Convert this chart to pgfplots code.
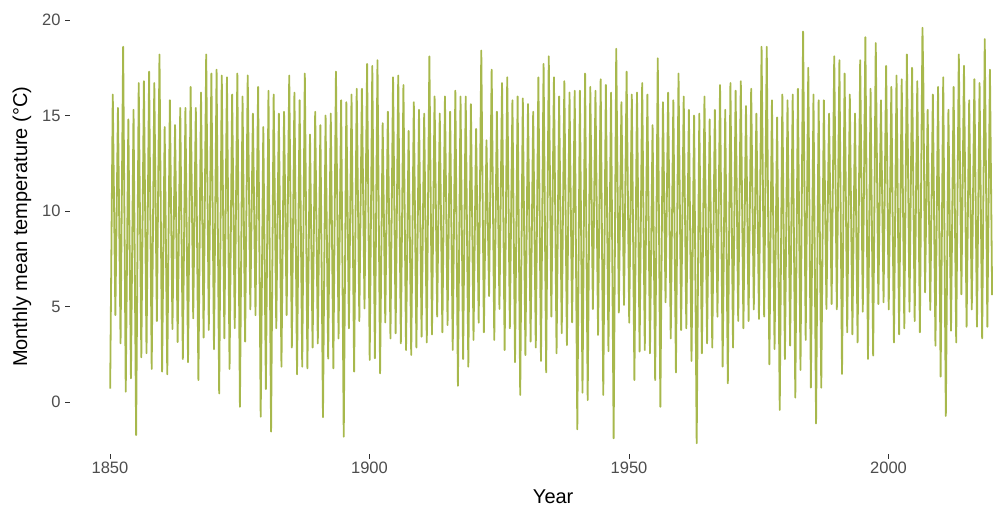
\documentclass[border=0pt]{standalone}
\usepackage{fontspec}
\setmainfont{Liberation Sans}
\usepackage{pgfplots}
\usepackage{pgfplotstable}
\pgfplotsset{compat=1.18}

\definecolor{lineolive}{RGB}{167,184,76}
\definecolor{ticktext}{RGB}{77,77,77}
\definecolor{tickmark}{RGB}{51,51,51}

% Monthly mean temperature: winter low (t = year + 0.04) and summer high (t = year + 0.54)
\pgfplotstableread{
t temp
1850.04 0.70
1850.54 16.1
1851.04 4.55
1851.54 15.4
1852.04 3.07
1852.54 18.6
1853.04 0.54
1853.54 14.8
1854.04 1.24
1854.54 15.3
1855.04 -1.73
1855.54 16.7
1856.04 2.34
1856.54 16.8
1857.04 2.55
1857.54 17.3
1858.04 1.73
1858.54 16.7
1859.04 4.24
1859.54 18.2
1860.04 1.59
1860.54 14.4
1861.04 1.45
1861.54 15.8
1862.04 3.82
1862.54 14.5
1863.04 3.14
1863.54 15.4
1864.04 2.25
1864.54 15.4
1865.04 2.08
1865.54 16.5
1866.04 4.38
1866.54 15.4
1867.04 1.15
1867.54 16.2
1868.04 3.37
1868.54 18.2
1869.04 3.77
1869.54 17.2
1870.04 2.77
1870.54 17.4
1871.04 0.45
1871.54 17.1
1872.04 3.33
1872.54 17.0
1873.04 1.73
1873.54 16.1
1874.04 3.86
1874.54 17.2
1875.04 -0.25
1875.54 16.0
1876.04 3.16
1876.54 17.1
1877.04 4.85
1877.54 15.1
1878.04 4.55
1878.54 16.5
1879.04 -0.77
1879.54 14.4
1880.04 0.68
1880.54 16.3
1881.04 -1.55
1881.54 16.1
1882.04 3.86
1882.54 15.1
1883.04 1.85
1883.54 15.2
1884.04 4.55
1884.54 17.1
1885.04 2.85
1885.54 16.2
1886.04 1.45
1886.54 15.8
1887.04 1.85
1887.54 17.2
1888.04 1.76
1888.54 14.0
1889.04 2.85
1889.54 15.2
1890.04 3.07
1890.54 14.5
1891.04 -0.80
1891.54 15.0
1892.04 2.27
1892.54 15.1
1893.04 1.76
1893.54 17.3
1894.04 3.33
1894.54 15.8
1895.04 -1.82
1895.54 15.7
1896.04 3.86
1896.54 16.1
1897.04 1.59
1897.54 16.4
1898.04 4.24
1898.54 16.4
1899.04 4.90
1899.54 17.7
1900.04 2.20
1900.54 17.6
1901.04 2.29
1901.54 17.9
1902.04 1.50
1902.54 14.6
1903.04 4.17
1903.54 15.2
1904.04 3.33
1904.54 17.0
1905.04 3.60
1905.54 17.1
1906.04 3.07
1906.54 16.6
1907.04 2.72
1907.54 14.2
1908.04 2.46
1908.54 15.7
1909.04 2.85
1909.54 15.3
1910.04 3.42
1910.54 15.1
1911.04 3.12
1911.54 18.1
1912.04 3.54
1912.54 16.0
1913.04 4.47
1913.54 15.1
1914.04 3.65
1914.54 16.0
1915.04 4.03
1915.54 15.2
1916.04 2.72
1916.54 16.3
1917.04 0.85
1917.54 16.0
1918.04 2.25
1918.54 16.0
1919.04 1.85
1919.54 15.6
1920.04 3.25
1920.54 14.3
1921.04 4.15
1921.54 18.4
1922.04 3.65
1922.54 13.7
1923.04 5.55
1923.54 17.4
1924.04 3.25
1924.54 15.2
1925.04 4.87
1925.54 16.7
1926.04 2.72
1926.54 17.0
1927.04 3.86
1927.54 15.8
1928.04 2.08
1928.54 16.0
1929.04 0.37
1929.54 15.9
1930.04 2.46
1930.54 15.6
1931.04 3.16
1931.54 15.2
1932.04 2.85
1932.54 17.0
1933.04 2.15
1933.54 17.7
1934.04 1.55
1934.54 18.1
1935.04 4.47
1935.54 17.0
1936.04 2.55
1936.54 16.0
1937.04 3.60
1937.54 16.8
1938.04 2.98
1938.54 16.2
1939.04 4.17
1939.54 16.3
1940.04 -1.43
1940.54 16.3
1941.04 0.49
1941.54 17.2
1942.04 0.10
1942.54 16.5
1943.04 4.87
1943.54 16.3
1944.04 3.51
1944.54 16.9
1945.04 0.37
1945.54 16.6
1946.04 2.66
1946.54 16.2
1947.04 -1.90
1947.54 18.5
1948.04 4.68
1948.54 15.7
1949.04 5.08
1949.54 17.3
1950.04 4.15
1950.54 16.1
1951.04 1.15
1951.54 16.2
1952.04 2.64
1952.54 16.7
1953.04 2.72
1953.54 16.1
1954.04 2.55
1954.54 14.5
1955.04 1.15
1955.54 18.0
1956.04 -0.25
1956.54 15.7
1957.04 5.22
1957.54 16.2
1958.04 3.33
1958.54 15.8
1959.04 1.55
1959.54 17.2
1960.04 3.77
1960.54 16.0
1961.04 3.86
1961.54 15.3
1962.04 2.15
1962.54 15.0
1963.04 -2.16
1963.54 15.1
1964.04 2.55
1964.54 16.0
1965.04 3.07
1965.54 14.8
1966.04 2.85
1966.54 15.3
1967.04 4.47
1967.54 16.6
1968.04 1.85
1968.54 15.3
1969.04 0.98
1969.54 16.7
1970.04 2.85
1970.54 16.3
1971.04 4.24
1971.54 16.8
1972.04 3.86
1972.54 15.5
1973.04 4.24
1973.54 16.4
1974.04 4.85
1974.54 15.1
1975.04 4.35
1975.54 18.6
1976.04 4.47
1976.54 18.6
1977.04 1.97
1977.54 15.8
1978.04 2.77
1978.54 14.9
1979.04 -0.42
1979.54 16.1
1980.04 2.25
1980.54 15.8
1981.04 2.95
1981.54 16.1
1982.04 0.23
1982.54 16.4
1983.04 1.68
1983.54 19.4
1984.04 3.25
1984.54 17.5
1985.04 0.75
1985.54 16.1
1986.04 -1.12
1986.54 15.8
1987.04 0.75
1987.54 15.8
1988.04 4.87
1988.54 15.1
1989.04 5.13
1989.54 18.1
1990.04 4.85
1990.54 17.9
1991.04 1.47
1991.54 17.2
1992.04 3.65
1992.54 16.1
1993.04 3.54
1993.54 15.1
1994.04 3.12
1994.54 17.9
1995.04 4.73
1995.54 19.1
1996.04 2.25
1996.54 16.4
1997.04 2.43
1997.54 18.8
1998.04 5.13
1998.54 15.8
1999.04 5.22
1999.54 17.6
2000.04 4.85
2000.54 16.5
2001.04 3.12
2001.54 17.1
2002.04 3.54
2002.54 16.9
2003.04 3.86
2003.54 18.2
2004.04 4.73
2004.54 17.5
2005.04 4.24
2005.54 16.8
2006.04 3.65
2006.54 19.6
2006.71 16.7
2007.04 5.74
2007.54 15.3
2008.04 4.82
2008.54 16.1
2009.04 2.95
2009.54 16.5
2010.04 1.33
2010.54 17.0
2011.04 -0.73
2011.54 15.3
2012.04 3.73
2012.54 16.5
2013.04 3.12
2013.54 18.2
2014.04 5.64
2014.54 17.6
2015.04 3.94
2015.54 15.8
2016.04 4.85
2016.54 16.9
2017.04 3.94
2017.54 16.7
2018.04 3.33
2018.54 19.0
2019.04 3.94
2019.54 17.4
2019.96 5.60
}\cetmonthly

\begin{document}
\begin{tikzpicture}
\begin{axis}[
    name=ax,
    scale only axis,
    width=923pt, height=453.6pt,
    xmin=1842.3, xmax=2020.13,
    ymin=-2.7, ymax=21.05,
    axis line style={draw=none},
    tick pos=left,
    tick align=outside,
    major tick length=5pt,
    tick style={tickmark, line width=0.8pt},
    xtick={1850,1900,1950,2000},
    ytick={0,5,10,15,20},
    /pgf/number format/1000 sep={},
    /pgf/number format/assume math mode=true,
    ticklabel style={font=\fontsize{16.5}{19}\selectfont, text=ticktext},
    yticklabel style={xshift=-1pt},
    xlabel={Year},
    ylabel={Monthly mean temperature (°C)},
    label style={font=\fontsize{20}{23}\selectfont, text=black},
    xlabel style={at={(axis description cs:0.5235,-0.1102)}, anchor=base},
    ylabel style={at={(axis description cs:-0.052,0.5)}, anchor=center},
]
\addplot[lineolive, line width=1.8pt, line join=round] table[x=t, y=temp] {\cetmonthly};
\end{axis}
% frame the picture: 70pt for the y labels on the left, 54.4pt below for the x labels
\pgfresetboundingbox
\path[use as bounding box] ([xshift=-70pt]ax.north west) rectangle ([yshift=-54.4pt]ax.south east);
\end{tikzpicture}
\end{document}
